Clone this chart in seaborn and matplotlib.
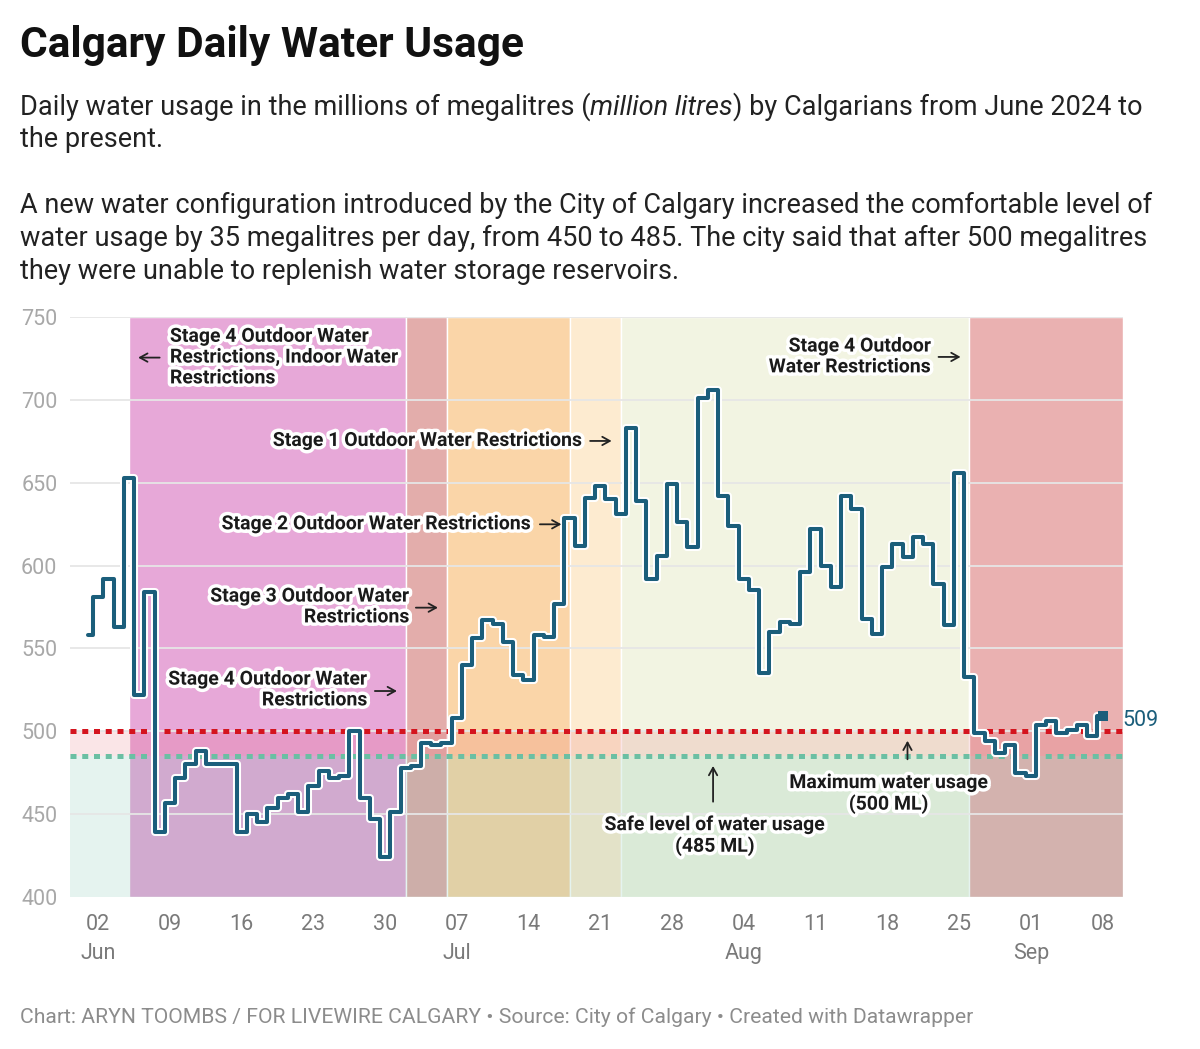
import matplotlib
matplotlib.use("Agg")
import matplotlib.pyplot as plt
import matplotlib.dates as mdates
import matplotlib.patheffects as pe
import numpy as np
import pandas as pd
import seaborn as sns

W, H = 1200, 1049

# ---------------- data ----------------
start_date = "2024-06-01"
usage_ml = [
    558, 581, 592, 563, 653, 522, 584, 439, 457, 472,   # Jun 1-10
    480, 488, 480, 480, 480, 439, 450, 445, 454, 460,   # Jun 11-20
    462, 451, 467, 476, 472, 473, 500, 460, 447, 424,   # Jun 21-30
    451, 478, 479, 493, 492, 493, 508, 540, 556, 567,   # Jul 1-10
    565, 554, 534, 531, 558, 557, 577, 629, 612, 641,   # Jul 11-20
    648, 640, 631, 683, 639, 592, 606, 649, 626, 611,   # Jul 21-30
    701, 706, 642, 624, 592, 585, 535, 560, 566, 565,   # Jul 31 - Aug 9
    596, 622, 600, 587, 642, 634, 568, 559, 599, 613,   # Aug 10-19
    605, 617, 613, 589, 564, 656, 533, 499, 494, 487,   # Aug 20-29
    492, 475, 473, 504, 506, 499, 501, 504, 497, 509,   # Aug 30 - Sep 8
]
safe_level = 485
max_level = 500

stage_start = ["2024-06-05", "2024-07-02", "2024-07-06", "2024-07-18", "2024-07-23", "2024-08-26"]
stage_end = ["2024-07-02", "2024-07-06", "2024-07-18", "2024-07-23", "2024-08-26", "2024-09-10"]
stage_colors = ["#e7a8d8", "#e3adab", "#fad5a8", "#fdebd0", "#f2f4e2", "#eab1b1"]

y_ticks = [400, 450, 500, 550, 600, 650, 700, 750]
x_ticks = pd.date_range("2024-06-02", "2024-09-08", freq="7D")

title = "Calgary Daily Water Usage"
sub_line1 = [("Daily water usage in the millions of megalitres (", "normal"),
             ("million litres", "italic"),
             (") by Calgarians from June 2024 to", "normal")]
sub_rest = ["the present.",
            "",
            "A new water configuration introduced by the City of Calgary increased the comfortable level of",
            "water usage by 35 megalitres per day, from 450 to 485. The city said that after 500 megalitres",
            "they were unable to replenish water storage reservoirs."]
footer = "Chart: ARYN TOOMBS / FOR LIVEWIRE CALGARY \u2022 Source: City of Calgary \u2022 Created with Datawrapper"

# ---------------- style ----------------
sns.set_theme(style="white")
plt.rcParams["font.family"] = ["Roboto", "DejaVu Sans"]

line_color = "#1b5e7b"
text_dark = "#222222"

dates = pd.date_range(start_date, periods=len(usage_ml), freq="D")
df = pd.DataFrame({"date": dates, "usage": usage_ml})

fig = plt.figure(figsize=(W / 100, H / 100), dpi=100)
ax = fig.add_axes([70 / W, 1 - 897 / H, (1123 - 70) / W, (897 - 317) / H])

halo = [pe.Stroke(linewidth=5.8, foreground="white"), pe.Normal()]
sns.lineplot(data=df, x="date", y="usage", ax=ax, drawstyle="steps-mid",
             color=line_color, linewidth=2.9, zorder=6, path_effects=halo)
ax.scatter([mdates.date2num(dates[-1])], [usage_ml[-1]], marker="s", s=62,
           color=line_color, zorder=7, linewidths=0)

t0 = mdates.date2num(pd.Timestamp(start_date))


def dx(d):
    return t0 + d


# stage bands
for s, e, c in zip(stage_start, stage_end, stage_colors):
    ax.axvspan(mdates.date2num(pd.Timestamp(s)), mdates.date2num(pd.Timestamp(e)),
               facecolor=c, edgecolor="white", lw=1.0, zorder=0)

# level zones
ax.axhspan(400, safe_level, color="#5fb8a0", alpha=0.16, lw=0, zorder=1)
ax.axhspan(safe_level, max_level, color="#e04a5a", alpha=0.14, lw=0, zorder=1)

# grid
for y in y_ticks[1:]:
    ax.axhline(y, color="#e6e6e6", lw=1.3, zorder=2)

# threshold dotted lines
ax.axhline(max_level, color="#d4141e", lw=3.6, ls=(0, (1.2, 1.15)), zorder=3)
ax.axhline(safe_level, color="#6bbfa3", lw=3.6, ls=(0, (1.2, 1.15)), zorder=3)

ax.set_xlim(dx(-1.75), dx(101))
ax.set_ylim(400, 750)
ax.set_xlabel("")
ax.set_ylabel("")
for s in ax.spines.values():
    s.set_visible(False)

ax.set_yticks(y_ticks)
ax.set_yticklabels([str(v) for v in y_ticks])
xt_labels = []
seen = set()
for d in x_ticks:
    lab = d.strftime("%d")
    if d.month not in seen:
        lab += "\n" + d.strftime("%b")
        seen.add(d.month)
    xt_labels.append(lab)
ax.set_xticks(mdates.date2num(x_ticks))
ax.set_xticklabels(xt_labels, linespacing=1.5, va="top")
ax.tick_params(axis="both", length=0)
ax.tick_params(axis="y", pad=9, labelsize=15.5, labelcolor="#a8a8a8")
ax.tick_params(axis="x", pad=12, labelsize=15.5, labelcolor="#7a7a7a")

# last value label
ax.annotate(str(usage_ml[-1]), xy=(mdates.date2num(dates[-1]), usage_ml[-1]),
            xytext=(14, -3), textcoords="offset points", ha="left", va="center",
            fontsize=15.5, color=line_color, zorder=8)

# ---------------- annotations ----------------
txt_halo = [pe.withStroke(linewidth=5, foreground="white")]
akw = dict(fontsize=14, fontweight="bold", color="#1a1a1a", zorder=9,
           path_effects=txt_halo, linespacing=1.2)
arrow_kw = dict(arrowstyle="->,head_length=0.45,head_width=0.25", color="#222222",
                lw=1.3, shrinkA=0, shrinkB=0)


def arrow(x0, y0, x1, y1):
    ax.annotate("", xy=(x1, y1), xytext=(x0, y0), arrowprops=arrow_kw, zorder=9)


ax.text(dx(8.0), 725.5, "Stage 4 Outdoor Water\nRestrictions, Indoor Water\nRestrictions",
        ha="left", va="center", multialignment="left", **akw)
arrow(dx(7.0), 725.5, dx(4.9), 725.5)

ax.text(dx(48.3), 675.2, "Stage 1 Outdoor Water Restrictions", ha="right", va="center", **akw)
arrow(dx(49.0), 675.2, dx(51.1), 675.2)

ax.text(dx(43.3), 624.9, "Stage 2 Outdoor Water Restrictions", ha="right", va="center", **akw)
arrow(dx(44.1), 624.9, dx(46.2), 624.9)

ax.text(dx(31.4), 575.0, "Stage 3 Outdoor Water\nRestrictions", ha="right", va="center",
        multialignment="right", **akw)
arrow(dx(32.0), 574.6, dx(34.15), 574.6)

ax.text(dx(27.3), 524.9, "Stage 4 Outdoor Water\nRestrictions", ha="right", va="center",
        multialignment="right", **akw)
arrow(dx(28.0), 524.3, dx(30.15), 524.3)

ax.text(dx(82.3), 725.9, "Stage 4 Outdoor\nWater Restrictions", ha="right", va="center",
        multialignment="right", **akw)
arrow(dx(83.0), 725.9, dx(85.15), 725.9)

ax.text(dx(61.2), 436.8, "Safe level of water usage\n(485 ML)", ha="center", va="center",
        multialignment="center", **akw)
arrow(dx(61.0), 457.5, dx(61.0), 479.1)

ax.text(dx(78.15), 462.2, "Maximum water usage\n(500 ML)", ha="center", va="center",
        multialignment="center", **akw)
arrow(dx(79.97), 483.1, dx(79.97), 494.3)

# ---------------- header / footer ----------------
fig.text(20 / W, 1 - 57 / H, title, fontsize=30.6, fontweight="bold", color="#111111",
         va="baseline", ha="left")

fig.canvas.draw()
renderer = fig.canvas.get_renderer()
sub_fs = 19.5
x = 20.0
for piece, style in sub_line1:
    t = fig.text(x / W, 1 - 115 / H, piece, fontsize=sub_fs, style=style,
                 color=text_dark, va="baseline", ha="left")
    x += t.get_window_extent(renderer=renderer).width

baselines = [147, None, 213, 246, 279]
for line, b in zip(sub_rest, baselines):
    if b is None:
        continue
    fig.text(20 / W, 1 - b / H, line, fontsize=sub_fs, color=text_dark,
             va="baseline", ha="left")

fig.text(20 / W, 1 - 1017 / H, footer, fontsize=15.2, color="#8c8c8c", va="center", ha="left")

fig.savefig("out.png", dpi=100, facecolor="white")
